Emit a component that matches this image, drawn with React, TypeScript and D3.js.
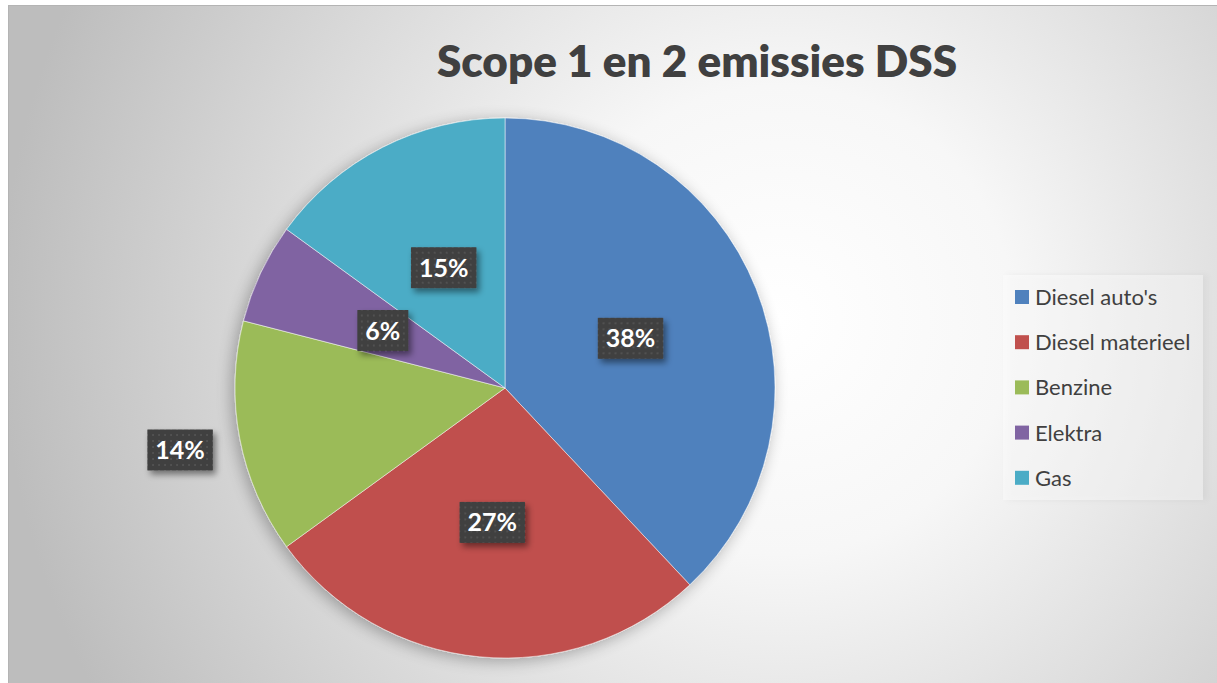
import React from 'react';
import * as d3 from 'd3';

const categories = ["Diesel auto's", "Diesel materieel", "Benzine", "Elektra", "Gas"];
const values = [38, 27, 14, 6, 15];
const colors = ['#4F81BD', '#C0504D', '#9BBB59', '#8064A2', '#4BACC6'];
const outsideLabels = ['Benzine'];
const title = 'Scope 1 en 2 emissies DSS';

const W = 1217;
const H = 683;
const cx = 505;
const cy = 388;
const R = 270;
const font = 'Lato, "Open Sans", sans-serif';

let ctx: CanvasRenderingContext2D | null = null;
function measure(text: string, f: string) {
  if (!ctx) ctx = document.createElement('canvas').getContext('2d');
  if (!ctx) return text.length * 12;
  ctx.font = f;
  return ctx.measureText(text).width;
}

export default function App() {
  const pie = d3.pie<number>().sort(null).value(d => d);
  const arcs = pie(values);
  const arc = d3.arc<d3.PieArcDatum<number>>().innerRadius(0).outerRadius(R);
  const total = d3.sum(values);

  return (
    <svg width={W} height={H} style={{ position: 'absolute', left: 0, top: 0 }}>
      <defs>
        <radialGradient id="bg" gradientUnits="userSpaceOnUse" cx={780} cy={320} r={780}>
          <stop offset="0" stopColor="#ffffff" />
          <stop offset="0.3" stopColor="#f7f7f7" />
          <stop offset="1" stopColor="#bdbdbd" />
        </radialGradient>
        <filter id="pieShadow" x="-20%" y="-20%" width="140%" height="140%">
          <feGaussianBlur in="SourceAlpha" stdDeviation="8" />
          <feOffset dx="-3" dy="3" result="b" />
          <feComponentTransfer><feFuncA type="linear" slope="0.3" /></feComponentTransfer>
          <feMerge><feMergeNode /><feMergeNode in="SourceGraphic" /></feMerge>
        </filter>
        <filter id="boxShadow" x="-30%" y="-30%" width="170%" height="170%">
          <feDropShadow dx="3" dy="4" stdDeviation="3" floodColor="#000" floodOpacity="0.45" />
        </filter>
        <filter id="legendShadow" x="-10%" y="-10%" width="130%" height="130%">
          <feDropShadow dx="4" dy="0" stdDeviation="3" floodColor="#000" floodOpacity="0.12" />
        </filter>
        <pattern id="dots" width="6" height="6" patternUnits="userSpaceOnUse">
          <rect width="6" height="6" fill="#3f3f3f" />
          <circle cx="3" cy="3" r="1" fill="#575757" />
        </pattern>
      </defs>

      <rect x={0} y={0} width={W} height={H} fill="#fff" />
      <rect x={8.5} y={5.5} width={W} height={H} fill="url(#bg)" stroke="#b4b4b4" />

      <text x={697} y={77} textAnchor="middle" fontFamily={font} fontWeight={800}
        fontSize={44} fill="#404040">{title}</text>

      <g transform={`translate(${cx},${cy})`}>
        <g filter="url(#pieShadow)">
          {arcs.map((a, i) => (
            <path key={categories[i]} d={arc(a) || ''} fill={colors[i]} stroke="#fff" strokeWidth={0.5} />
          ))}
        </g>
        {arcs.map((a, i) => {
          const outside = outsideLabels.includes(categories[i]);
          const lr = outside ? R * 1.225 : R * 0.5;
          const [lx, ly] = d3.arc<d3.PieArcDatum<number>>().innerRadius(lr).outerRadius(lr).centroid(a);
          const label = `${Math.round((values[i] / total) * 100)}%`;
          const tw = measure(label, `700 25px ${font}`);
          const bw = tw + 16;
          const bh = 41;
          return (
            <g key={'l' + i} transform={`translate(${lx},${ly})`}>
              <rect x={-bw / 2} y={-bh / 2} width={bw} height={bh} fill="url(#dots)" filter="url(#boxShadow)" />
              <text y={9} textAnchor="middle" fontFamily={font} fontWeight={700} fontSize={25} fill="#fff">{label}</text>
            </g>
          );
        })}
      </g>

      <rect x={1003} y={275} width={200} height={225} fill="#ffffff" fillOpacity={0.35} filter="url(#legendShadow)" />
      {categories.map((c, i) => {
        const y = 297 + i * 45.2;
        return (
          <g key={c}>
            <rect x={1015} y={y - 7} width={14} height={14} fill={colors[i]} />
            <text x={1035} y={y + 8} fontFamily={font} fontSize={22} fill="#404040">{c}</text>
          </g>
        );
      })}
    </svg>
  );
}
